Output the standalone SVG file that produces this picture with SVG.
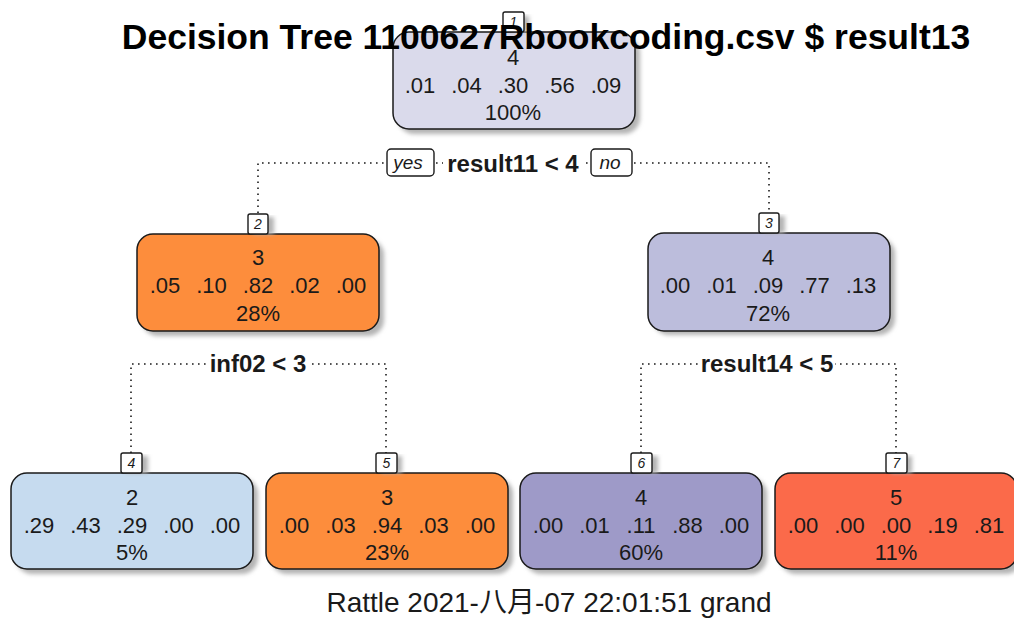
<svg xmlns="http://www.w3.org/2000/svg" width="1014" height="618" viewBox="0 0 1014 618">
  <defs>
    <filter id="soft" x="-10%" y="-10%" width="130%" height="130%">
      <feGaussianBlur stdDeviation="2"/>
    </filter>
    <style>
      .bg { fill: #ffffff; }
      .shadow { fill: #b4b4b4; filter: url(#soft); }
      .box { stroke: #1a1a1a; stroke-width: 1.5; }
      .val { font-family: "Liberation Sans", Arial, sans-serif; font-size: 22px; fill: #1a1a1a; text-anchor: middle; }
      .numbox { fill: #ffffff; stroke: #1a1a1a; stroke-width: 1.4; }
      .num { font-family: "Liberation Sans", Arial, sans-serif; font-size: 14px; font-style: italic; fill: #1a1a1a; text-anchor: middle; }
      .edge { fill: none; stroke: #1a1a1a; stroke-width: 1.6; stroke-dasharray: 1.6 4.4; }
      .split { font-family: "Liberation Sans", Arial, sans-serif; font-size: 24px; font-weight: bold; fill: #1a1a1a; text-anchor: middle; }
      .yn { fill: #ffffff; stroke: #1a1a1a; stroke-width: 1.4; }
      .yntext { font-family: "Liberation Sans", Arial, sans-serif; font-size: 19px; font-style: italic; fill: #1a1a1a; text-anchor: middle; }
      .title { font-family: "Liberation Sans", Arial, sans-serif; font-size: 35.5px; font-weight: bold; fill: #000000; text-anchor: middle; }
      .footer { font-family: "Liberation Sans", Arial, "Noto Sans CJK SC", sans-serif; font-size: 28px; fill: #1a1a1a; text-anchor: middle; }
    </style>
  </defs>

  <rect class="bg" x="0" y="0" width="1014" height="618"/>

  <!-- connectors: dotted split lines with their labels -->
  <g id="connectors">
    <path class="edge" d="M258,213 V163 H769 V212"/>
    <path class="edge" d="M131,453 V364 H386 V453"/>
    <path class="edge" d="M641,453 V364 H896 V453"/>

    <rect class="bg" x="443" y="150" width="140" height="27"/>
    <text class="split" x="513" y="172">result11 &lt; 4</text>
    <rect class="yn" x="387" y="149" width="47" height="27" rx="4"/>
    <text class="yntext" x="408" y="169">yes</text>
    <rect class="yn" x="591" y="149" width="41" height="27" rx="4"/>
    <text class="yntext" x="610" y="169">no</text>

    <rect class="bg" x="206" y="351" width="104" height="27"/>
    <text class="split" x="258" y="372">inf02 &lt; 3</text>

    <rect class="bg" x="699" y="351" width="136" height="27"/>
    <text class="split" x="767" y="372">result14 &lt; 5</text>
  </g>

  <!-- node 1 (root) -->
  <g id="node1">
    <rect class="shadow" x="398" y="37" width="242" height="97" rx="16"/>
    <rect class="box" x="393" y="32" width="242" height="97" rx="16" fill="#DADAEB"/>
    <text class="val" x="513" y="65">4</text>
    <text class="val" y="93"><tspan x="420">.01</tspan><tspan x="466.5">.04</tspan><tspan x="513">.30</tspan><tspan x="559.5">.56</tspan><tspan x="606">.09</tspan></text>
    <text class="val" x="513" y="120">100%</text>
    <rect class="shadow" x="508" y="16" width="21" height="16"/>
    <rect class="numbox" x="503" y="12" width="21" height="20" rx="2"/>
    <text class="num" x="513.5" y="27">1</text>
  </g>

  <!-- node 2 -->
  <g id="node2">
    <rect class="shadow" x="142" y="239" width="242" height="97" rx="16"/>
    <rect class="box" x="137" y="234" width="242" height="97" rx="16" fill="#FD8D3C"/>
    <text class="val" x="258" y="265">3</text>
    <text class="val" y="293"><tspan x="165">.05</tspan><tspan x="211.5">.10</tspan><tspan x="258">.82</tspan><tspan x="304.5">.02</tspan><tspan x="351">.00</tspan></text>
    <text class="val" x="258" y="321">28%</text>
    <rect class="shadow" x="253" y="217" width="21" height="17"/>
    <rect class="numbox" x="248" y="214" width="20" height="20" rx="2"/>
    <text class="num" x="258" y="229">2</text>
  </g>

  <!-- node 3 -->
  <g id="node3">
    <rect class="shadow" x="653" y="238" width="242" height="97" rx="16"/>
    <rect class="box" x="648" y="233" width="242" height="98" rx="16" fill="#BCBDDC"/>
    <text class="val" x="768" y="265">4</text>
    <text class="val" y="293"><tspan x="675">.00</tspan><tspan x="721.5">.01</tspan><tspan x="768">.09</tspan><tspan x="814.5">.77</tspan><tspan x="861">.13</tspan></text>
    <text class="val" x="768" y="321">72%</text>
    <rect class="shadow" x="764" y="216" width="21" height="17"/>
    <rect class="numbox" x="759" y="213" width="20" height="20" rx="2"/>
    <text class="num" x="769" y="228">3</text>
  </g>

  <!-- node 4 (leaf) -->
  <g id="node4">
    <rect class="shadow" x="16" y="478" width="242" height="96" rx="16"/>
    <rect class="box" x="11" y="473" width="242" height="96" rx="16" fill="#C6DBEF"/>
    <text class="val" x="132" y="505">2</text>
    <text class="val" y="533"><tspan x="39">.29</tspan><tspan x="85.5">.43</tspan><tspan x="132">.29</tspan><tspan x="178.5">.00</tspan><tspan x="225">.00</tspan></text>
    <text class="val" x="132" y="560">5%</text>
    <rect class="shadow" x="126" y="456" width="22" height="17"/>
    <rect class="numbox" x="121" y="453" width="21" height="20" rx="2"/>
    <text class="num" x="131.5" y="468">4</text>
  </g>

  <!-- node 5 (leaf) -->
  <g id="node5">
    <rect class="shadow" x="271" y="478" width="242" height="96" rx="16"/>
    <rect class="box" x="266" y="473" width="242" height="96" rx="16" fill="#FD8D3C"/>
    <text class="val" x="387" y="505">3</text>
    <text class="val" y="533"><tspan x="294">.00</tspan><tspan x="340.5">.03</tspan><tspan x="387">.94</tspan><tspan x="433.5">.03</tspan><tspan x="480">.00</tspan></text>
    <text class="val" x="387" y="560">23%</text>
    <rect class="shadow" x="381" y="456" width="21" height="17"/>
    <rect class="numbox" x="376" y="453" width="21" height="20" rx="2"/>
    <text class="num" x="386.5" y="468">5</text>
  </g>

  <!-- node 6 (leaf) -->
  <g id="node6">
    <rect class="shadow" x="525" y="478" width="242" height="96" rx="16"/>
    <rect class="box" x="520" y="473" width="242" height="96" rx="16" fill="#9E9AC8"/>
    <text class="val" x="641" y="505">4</text>
    <text class="val" y="533"><tspan x="548">.00</tspan><tspan x="594.5">.01</tspan><tspan x="641">.11</tspan><tspan x="687.5">.88</tspan><tspan x="734">.00</tspan></text>
    <text class="val" x="641" y="560">60%</text>
    <rect class="shadow" x="636" y="456" width="22" height="17"/>
    <rect class="numbox" x="631" y="453" width="21" height="20" rx="2"/>
    <text class="num" x="641.5" y="468">6</text>
  </g>

  <!-- node 7 (leaf, runs past the right edge) -->
  <g id="node7">
    <rect class="shadow" x="780" y="478" width="242" height="96" rx="16"/>
    <rect class="box" x="775" y="473" width="242" height="96" rx="16" fill="#FB6A4A"/>
    <text class="val" x="896" y="505">5</text>
    <text class="val" y="533"><tspan x="803">.00</tspan><tspan x="849.5">.00</tspan><tspan x="896">.00</tspan><tspan x="942.5">.19</tspan><tspan x="989">.81</tspan></text>
    <text class="val" x="896" y="560">11%</text>
    <rect class="shadow" x="891" y="456" width="21" height="17"/>
    <rect class="numbox" x="886" y="453" width="21" height="20" rx="2"/>
    <text class="num" x="896.5" y="468">7</text>
  </g>

  <!-- title drawn over the tree, footer below -->
  <text class="title" x="546" y="49">Decision Tree 1100627Rbookcoding.csv $ result13</text>
  <text class="footer" x="549" y="612">Rattle 2021-八月-07 22:01:51 grand</text>
</svg>
